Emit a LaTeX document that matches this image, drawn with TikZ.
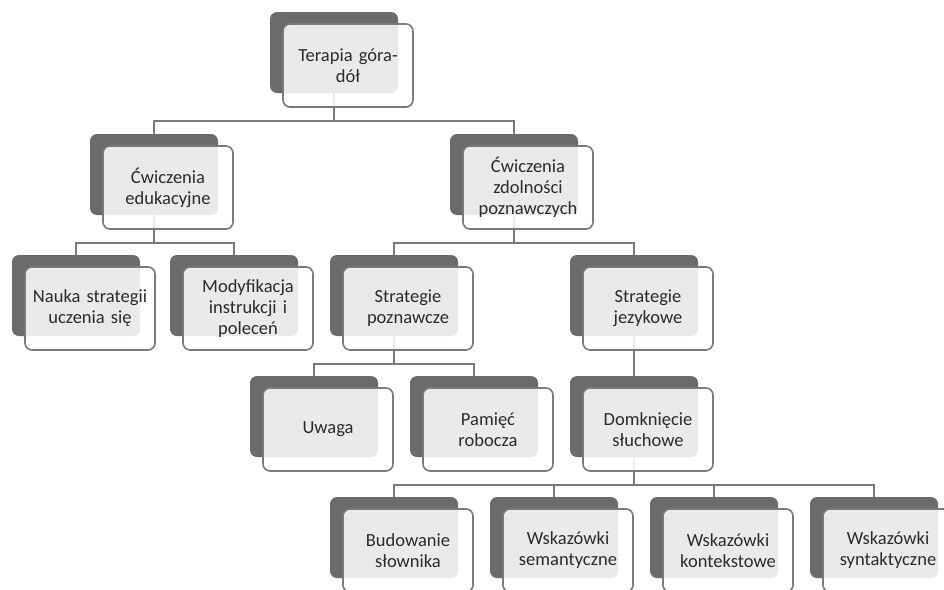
\documentclass[tikz,border=0pt]{standalone}
\usepackage{fontspec}
\setmainfont{Carlito}
\definecolor{backgray}{HTML}{6B6B6B}
\definecolor{edgegray}{HTML}{7A7A7A}
\definecolor{txtgray}{HTML}{2B2B2B}
\tikzset{
  backbox/.style={draw=none, fill=backgray, rounded corners=7pt, minimum width=128pt, minimum height=81pt, inner sep=0pt},
  frontbox/.style={draw=edgegray, line width=1.6pt, fill=white, fill opacity=0.86, text opacity=1, rounded corners=7pt, minimum width=130pt, minimum height=83pt, inner sep=0pt, text width=126pt, align=center, text=txtgray, font=\fontsize{18.5}{21}\selectfont},
  conn/.style={draw=edgegray, line width=1.6pt}
}
\newcommand{\mkback}[3]{\node[backbox] (#1d) at (#2+64,#3+40.5) {};}
\newcommand{\mkfront}[4]{\node[frontbox] (#1) at (#2+78,#3+53.5) {#4};}
\begin{document}
\begin{tikzpicture}[x=1pt,y=-1pt]
\useasboundingbox (0,0) rectangle (944,589);
% back boxes
\mkback{t0}{270}{12}
\mkback{c1}{90}{134}
\mkback{c2}{450}{134}
\mkback{n1}{12}{255}
\mkback{n2}{170}{255}
\mkback{n3}{330}{255}
\mkback{n4}{570}{255}
\mkback{m1}{250}{376}
\mkback{m2}{410}{376}
\mkback{m3}{570}{376}
\mkback{b1}{330}{497}
\mkback{b2}{490}{497}
\mkback{b3}{650}{497}
\mkback{b4}{810}{497}
% connectors
\draw[conn] (t0d.south) -- ++(0,28) -| (c1d.north);
\draw[conn] (t0d.south) -- ++(0,28) -| (c2d.north);
\draw[conn] (c1d.south) -- ++(0,28) -| (n1d.north);
\draw[conn] (c1d.south) -- ++(0,28) -| (n2d.north);
\draw[conn] (c2d.south) -- ++(0,28) -| (n3d.north);
\draw[conn] (c2d.south) -- ++(0,28) -| (n4d.north);
\draw[conn] (n3d.south) -- ++(0,28) -| (m1d.north);
\draw[conn] (n3d.south) -- ++(0,28) -| (m2d.north);
\draw[conn] (n4d.south) -- (m3d.north);
\draw[conn] (m3d.south) -- ++(0,28) -| (b1d.north);
\draw[conn] (m3d.south) -- ++(0,28) -| (b2d.north);
\draw[conn] (m3d.south) -- ++(0,28) -| (b3d.north);
\draw[conn] (m3d.south) -- ++(0,28) -| (b4d.north);
% front boxes
\mkfront{t0}{270}{12}{Terapia góra-\\dół}
\mkfront{c1}{90}{134}{Ćwiczenia\\edukacyjne}
\mkfront{c2}{450}{134}{Ćwiczenia\\zdolności\\poznawczych}
\mkfront{n1}{12}{255}{Nauka strategii\\uczenia się}
\mkfront{n2}{170}{255}{Modyfikacja\\instrukcji i\\poleceń}
\mkfront{n3}{330}{255}{Strategie\\poznawcze}
\mkfront{n4}{570}{255}{Strategie\\jezykowe}
\mkfront{m1}{250}{376}{Uwaga}
\mkfront{m2}{410}{376}{Pamięć\\robocza}
\mkfront{m3}{570}{376}{Domknięcie\\słuchowe}
\mkfront{b1}{330}{497}{Budowanie\\słownika}
\mkfront{b2}{490}{497}{Wskazówki\\semantyczne}
\mkfront{b3}{650}{497}{Wskazówki\\kontekstowe}
\mkfront{b4}{810}{497}{Wskazówki\\syntaktyczne}
\end{tikzpicture}
\end{document}
